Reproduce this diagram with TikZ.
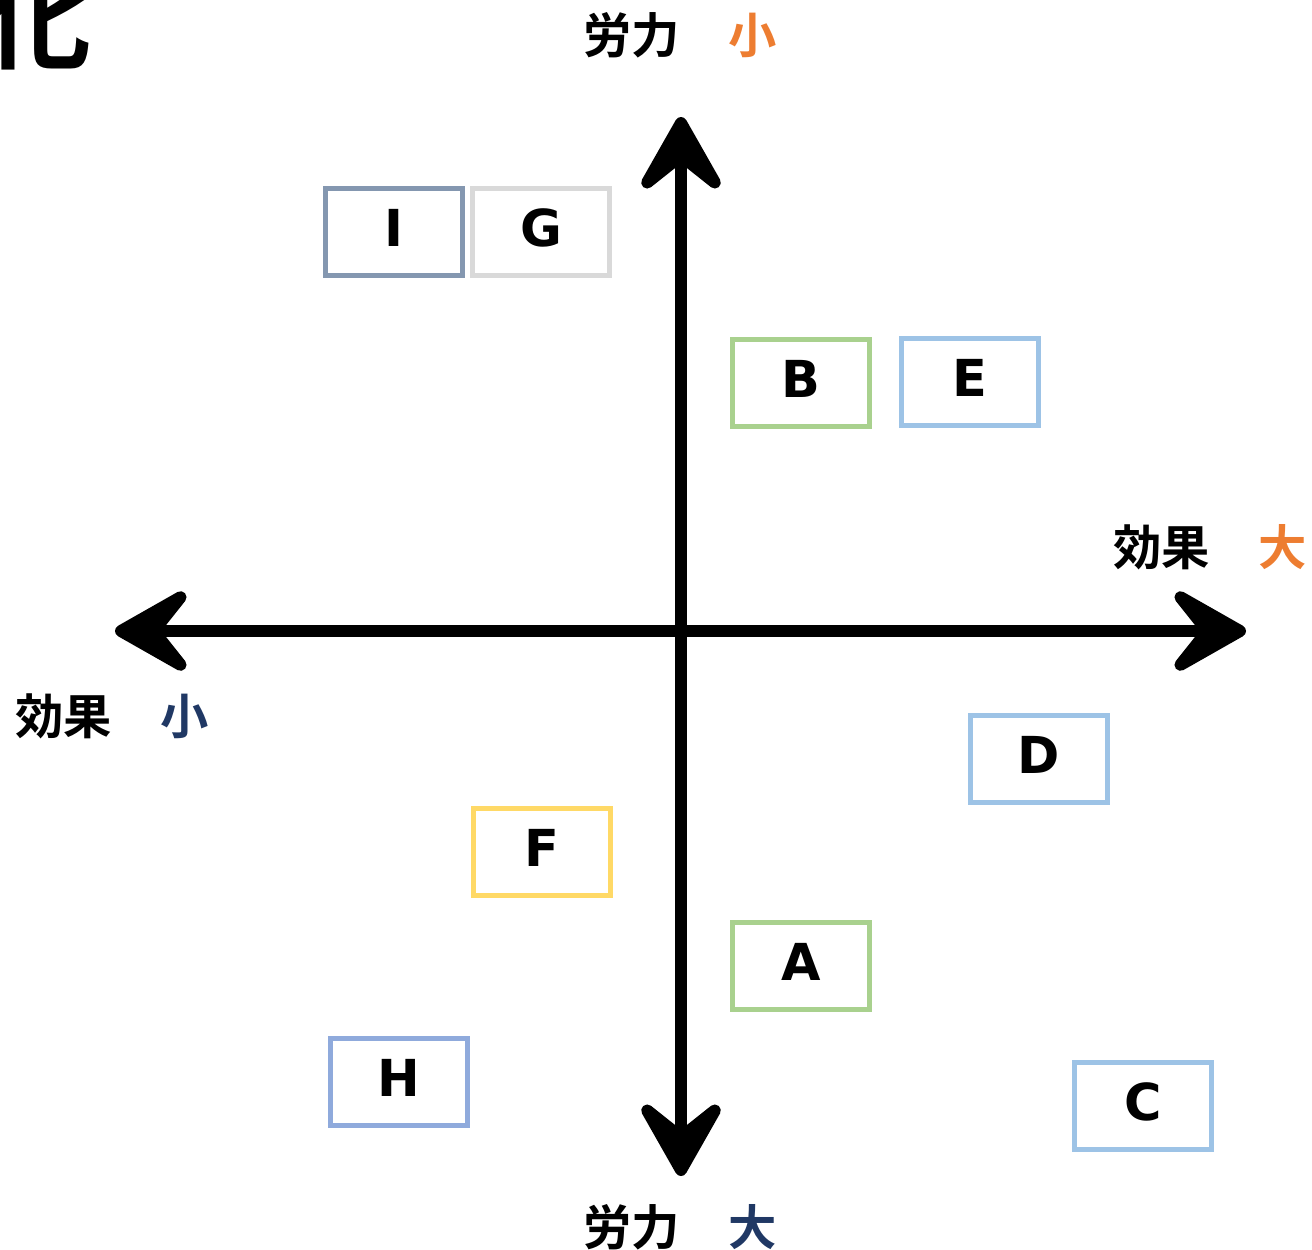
\documentclass[tikz,border=0pt]{standalone}
\usepackage{fontspec}
\setmainfont{DejaVu Sans}
\newfontfamily\jpfont{Noto Sans CJK JP}[BoldFont=* Bold]
\usetikzlibrary{arrows.meta}
\definecolor{greyblue}{HTML}{8497B0}
\definecolor{lightgrey}{HTML}{D9D9D9}
\definecolor{leafgreen}{HTML}{A9D18E}
\definecolor{skyblue}{HTML}{9DC3E6}
\definecolor{softblue}{HTML}{8FAADC}
\definecolor{sunyellow}{HTML}{FFD966}
\definecolor{hiorange}{HTML}{ED7D31}
\definecolor{navy}{HTML}{203864}

\begin{document}
\begin{tikzpicture}[x=0.02cm, y=-0.02cm,
    item/.style={draw=#1, line width=5*0.02cm, minimum width=137*0.02cm,
      minimum height=87*0.02cm, inner sep=0pt, font=\fontsize{29}{30}\selectfont\bfseries},
    axislabel/.style={font=\jpfont\bfseries\fontsize{27.5}{28}\selectfont, inner sep=0pt},
    axis/.style={line width=12*0.02cm,
      {Stealth[round,length=1.9cm,width=2.15cm,inset=0.85cm]}-{Stealth[round,length=1.9cm,width=2.15cm,inset=0.85cm]}}]
  \useasboundingbox (0,0) rectangle (1312,1249);
  % partly cut title character
  \node[anchor=south east, inner sep=0pt, font=\jpfont\bfseries\fontsize{62}{62}\selectfont] (title) at (92,70) {化};

  % axes
  \coordinate (up) at (681,117);
  \coordinate (down) at (681,1176);
  \coordinate (left) at (115,631);
  \coordinate (right) at (1246,631);
  \draw [axis] (down) to (up);
  \draw [axis] (left) to (right);

  \node[axislabel] (ltop) at (680,35) {労力　\textcolor{hiorange}{小}};
  \node[axislabel] (lbottom) at (680,1227) {労力　\textcolor{navy}{大}};
  \node[axislabel] (lright) at (1210,547) {効果　\textcolor{hiorange}{大}};
  \node[axislabel] (lleft) at (112,716) {効果　\textcolor{navy}{小}};

  % items
  \node[item=greyblue] (i) at (394,232) {\raisebox{5pt}{I}};
  \node[item=lightgrey] (g) at (541,232) {\raisebox{5pt}{G}};
  \node[item=leafgreen] (b) at (801,383) {\raisebox{5pt}{B}};
  \node[item=skyblue] (e) at (970,382) {\raisebox{5pt}{E}};
  \node[item=skyblue] (d) at (1039,759) {\raisebox{5pt}{D}};
  \node[item=sunyellow] (f) at (542,852) {\raisebox{5pt}{F}};
  \node[item=leafgreen] (a) at (801,966) {\raisebox{5pt}{A}};
  \node[item=softblue] (h) at (399,1082) {\raisebox{5pt}{H}};
  \node[item=skyblue] (c) at (1143,1106) {\raisebox{5pt}{C}};
\end{tikzpicture}
\end{document}
